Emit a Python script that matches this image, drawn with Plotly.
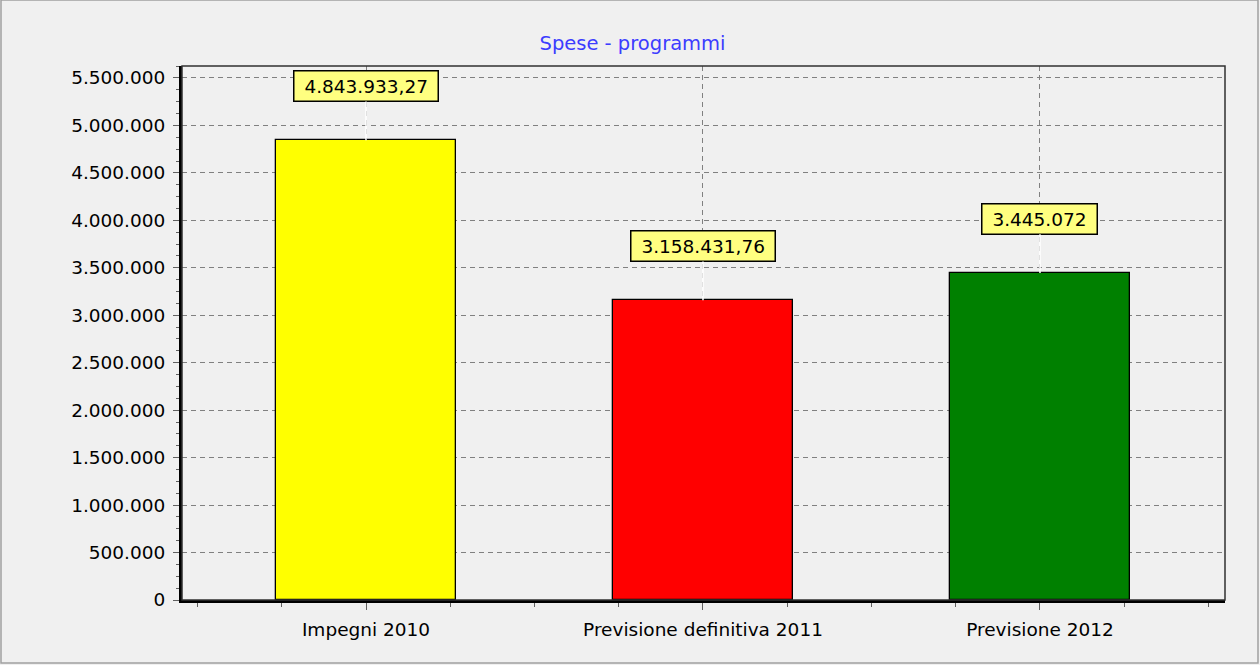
import plotly.graph_objects as go

categories = ["Impegni 2010", "Previsione definitiva 2011", "Previsione 2012"]
values = [4843933.27, 3158431.76, 3445072]
value_labels = ["4.843.933,27", "3.158.431,76", "3.445.072"]
bar_colors = ["#ffff00", "#ff0000", "#008000"]
y_tickvals = [0, 500000, 1000000, 1500000, 2000000, 2500000, 3000000,
              3500000, 4000000, 4500000, 5000000, 5500000]
y_ticktext = ["0", "500.000", "1.000.000", "1.500.000", "2.000.000", "2.500.000",
              "3.000.000", "3.500.000", "4.000.000", "4.500.000", "5.000.000", "5.500.000"]

FONT = "DejaVu Sans"
FS = 18.5
xpos = list(range(len(categories)))

fig = go.Figure()
fig.add_trace(go.Bar(
    x=xpos, y=values, width=0.537,
    marker=dict(color=bar_colors, line=dict(color="#000000", width=1.3)),
    hoverinfo="skip", showlegend=False,
))

for xi, v, lab in zip(xpos, values, value_labels):
    fig.add_annotation(
        x=xi, y=v, xref="x", yref="y", text="&nbsp;" + lab + "&nbsp;",
        showarrow=True, arrowhead=0, arrowcolor="#ffffff", arrowwidth=1.5,
        ax=0, ay=-54,
        bgcolor="#ffff80", bordercolor="#000000", borderwidth=1.5, borderpad=4,
        font=dict(family=FONT, size=FS, color="#000000"),
    )

fig.update_layout(
    width=1260, height=665,
    paper_bgcolor="#f0f0f0", plot_bgcolor="#f0f0f0",
    margin=dict(l=182, r=35, t=66, b=65),
    title=dict(text="Spese - programmi", x=0.502, xref="container", xanchor="center",
               y=1 - 43 / 665, yref="container", yanchor="middle",
               font=dict(family=FONT, size=19.5, color="#3c3cff")),
    font=dict(family=FONT, size=FS, color="#000000"),
    bargap=0,
)
fig.update_xaxes(
    range=[-0.546, 2.549], tickmode="array", tickvals=xpos, ticktext=categories,
    showgrid=True, gridcolor="#808080", griddash="5px,4px", gridwidth=1,
    zeroline=False,
    showline=True, linecolor="#000000", linewidth=3,
    ticks="outside", ticklen=7, tickcolor="#606060", tickwidth=1,
    ticklabelstandoff=4,
    minor=dict(dtick=0.25, tick0=0, ticks="outside", ticklen=4, tickcolor="#606060", showgrid=False),
    tickfont=dict(family=FONT, size=FS, color="#000000"),
)
fig.update_yaxes(
    range=[0, 5626000], tickmode="array", tickvals=y_tickvals, ticktext=y_ticktext,
    showgrid=True, gridcolor="#808080", griddash="5px,4px", gridwidth=1,
    zeroline=False,
    showline=True, linecolor="#000000", linewidth=3,
    ticks="outside", ticklen=6, tickcolor="#606060", tickwidth=1,
    ticklabelstandoff=4,
    minor=dict(dtick=125000, tick0=0, ticks="outside", ticklen=3, tickcolor="#606060", showgrid=False),
    tickfont=dict(family=FONT, size=FS, color="#000000"),
)
# plot frame (top/right)
fig.add_shape(type="rect", xref="paper", yref="paper", x0=0, y0=0, x1=1, y1=1,
              line=dict(color="#303030", width=1.5), layer="above")
# outer window border
fig.add_shape(type="rect", xref="paper", yref="paper",
              x0=-181 / 1043, y0=-63 / 534, x1=1 + 33 / 1043, y1=1 + 66 / 534,
              line=dict(color="#a0a0a0", width=1.5), layer="above")

fig.write_html("out.html", config={"displayModeBar": False},
               post_script="document.body.style.margin='0px';")
